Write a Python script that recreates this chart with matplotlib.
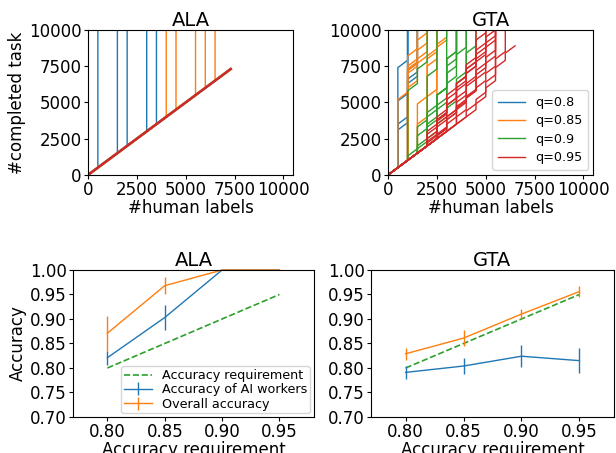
import matplotlib
matplotlib.use("Agg")
import matplotlib.pyplot as plt

# quality levels used in the simulations
q_labels = ["q=0.8", "q=0.85", "q=0.9", "q=0.95"]
q_colors = ["C0", "C1", "C2", "C3"]

# ALA: human label count at which the AI workers took over (one per run)
ala_takeover = [
    [500, 1500, 2000, 3000, 3500],
    [4000, 4500, 5500, 6000, 6500],
    [],
    [],
]
ala_total_human = 7300

# GTA: tasks labelled by the AI at each checkpoint (every 500 human labels)
gta_q080 = [
    [6900, 10000],
    [4600, 10000],
    [3000, 10000],
    [2600, 10000],
    [0, 5300, 10000],
    [0, 6200, 10000],
    [0, 5600, 10000],
]
gta_q085 = [
    [4700, 1500, 10000],
    [0, 6300, 800, 10000],
    [0, 6500, 0, 10000],
    [0, 5000, 1200, 0, 10000],
    [0, 0, 3400, 0, 10000],
    [0, 0, 0, 6000, 10000],
    [0, 0, 2000, 3500, 1000, 10000],
    [0, 0, 0, 0, 6300],
    [0, 6000, 1800, 10000],
    [0, 7200, 10000],
]
gta_q090 = [
    [0, 4800, 1000, 10000],
    [0, 0, 1800, 3000, 10000],
    [0, 0, 0, 2300, 0, 10000],
    [0, 0, 500, 0, 2500, 2000, 10000],
    [0, 0, 0, 0, 0, 0, 3100, 1300, 10000],
    [0, 0, 0, 1500, 1500, 1000, 10000],
    [0, 300, 0, 1000, 0, 2000, 1500, 10000],
    [0, 0, 0, 0, 3000, 1500, 10000],
    [0, 0, 1200, 800, 0, 3000, 10000],
    [0, 0, 0, 0, 1000, 600, 1200, 10000],
]
gta_q095 = [
    [0, 0, 0, 0, 0, 0, 0, 0, 400, 600, 10000],
    [0, 0, 0, 500, 800, 500, 1000, 500, 1500, 10000],
    [0, 0, 0, 0, 1500, 300, 500, 1000, 500, 300, 10000],
    [0, 0, 0, 0, 0, 1000, 500, 1500, 300, 1200, 10000],
    [0, 0, 0, 1000, 0, 1500, 0, 500, 500, 300],
    [0, 0, 0, 0, 0, 0, 500, 800, 200, 500, 500, 10000],
    [0, 0, 0, 0, 0, 0, 0, 400, 300, 700, 500, 500],
    [0, 0, 0, 300, 500, 200, 800, 300, 600, 400, 10000],
    [0, 0, 0, 0, 200, 600, 300, 1200, 10000],
    [0, 0, 0, 800, 400, 1000, 600, 800, 500, 10000],
    [0, 0, 0, 0, 300, 200, 500, 300, 800, 600, 10000],
    [0, 0, 0, 200, 0, 600, 400, 200, 1000, 10000],
]
gta_runs = [gta_q080, gta_q085, gta_q090, gta_q095]
checkpoint = 500
n_tasks = 10000

# accuracy vs requirement
acc_req = [0.80, 0.85, 0.90, 0.95]
acc_ticks = [0.70, 0.75, 0.80, 0.85, 0.90, 0.95, 1.00]
ala_ai = [0.821, 0.903, 1.0, 1.0]
ala_ai_err = [0.014, 0.025, 0.0, 0.0]
ala_all = [0.871, 0.968, 1.0, 1.0]
ala_all_err = [0.036, 0.018, 0.0, 0.0]
gta_ai = [0.791, 0.804, 0.824, 0.815]
gta_ai_err = [0.013, 0.016, 0.022, 0.026]
gta_all = [0.829, 0.861, 0.910, 0.956]
gta_all_err = [0.012, 0.016, 0.011, 0.011]


def run_path(jumps):
    xs, ys = [0], [0]
    y = 0
    c = 0
    for i, j in enumerate(jumps):
        c = (i + 1) * checkpoint
        y += checkpoint
        xs.append(c)
        ys.append(y)
        if j:
            y += j
            xs.append(c)
            ys.append(y)
        if y >= n_tasks:
            break
    if y < n_tasks:
        xs.append(c + checkpoint)
        ys.append(y + checkpoint)
    return xs, ys


tick_fs = 12
label_fs = 12
fig = plt.figure(figsize=(6.16, 4.53), dpi=100)
ax1 = fig.add_axes([0.143, 0.614, 0.333, 0.320])
ax2 = fig.add_axes([0.630, 0.614, 0.333, 0.320])
ax3 = fig.add_axes([0.1185, 0.0795, 0.391, 0.3245])
ax4 = fig.add_axes([0.602, 0.0795, 0.395, 0.3245])

# ALA runs
for k, color in enumerate(q_colors):
    if ala_takeover[k]:
        for t in ala_takeover[k]:
            ax1.plot([0, t, t], [0, t, n_tasks], color=color, lw=1)
    else:
        ax1.plot([0, ala_total_human], [0, ala_total_human], color=color, lw=1.8)

# GTA runs
for k, color in enumerate(q_colors):
    for r, jumps in enumerate(gta_runs[k]):
        xs, ys = run_path(jumps)
        ax2.plot(xs, ys, color=color, lw=1, label=q_labels[k] if r == 0 else None)
ax2.legend(loc="lower right", fontsize=9.2, handlelength=2.1, labelspacing=0.42,
           borderpad=0.44, borderaxespad=0.4)

for ax, title in [(ax1, "ALA"), (ax2, "GTA")]:
    ax.set_xlim(0, 10500)
    ax.set_ylim(0, 10000)
    ax.set_xticks([0, 2500, 5000, 7500, 10000])
    ax.set_yticks([0, 2500, 5000, 7500, 10000])
    ax.tick_params(labelsize=tick_fs, pad=1.5, length=3)
    ax.set_title(title, fontsize=14, pad=2)
    ax.set_xlabel("#human labels", fontsize=label_fs, labelpad=0)
ax1.set_ylabel("#completed task", fontsize=label_fs, labelpad=2)

# accuracy plots
ax3.plot(acc_req, acc_req, "--", color="C2", lw=1.2, label="Accuracy requirement")
ax3.errorbar(acc_req, ala_ai, yerr=ala_ai_err, color="C0", lw=1, clip_on=False,
             label="Accuracy of AI workers")
ax3.errorbar(acc_req, ala_all, yerr=ala_all_err, color="C1", lw=1, clip_on=False,
             label="Overall accuracy")
ax3.legend(loc="lower right", fontsize=9.2, handlelength=2.2, borderpad=0.2,
           labelspacing=0.1, borderaxespad=0.3)

ax4.plot(acc_req, acc_req, "--", color="C2", lw=1.2)
ax4.errorbar(acc_req, gta_ai, yerr=gta_ai_err, color="C0", lw=1)
ax4.errorbar(acc_req, gta_all, yerr=gta_all_err, color="C1", lw=1)

for ax, title in [(ax3, "ALA"), (ax4, "GTA")]:
    ax.set_xlim(0.77, 0.98)
    ax.set_ylim(0.70, 1.00)
    ax.set_xticks(acc_req)
    ax.set_xticklabels(["%.2f" % v for v in acc_req])
    ax.set_yticks(acc_ticks)
    ax.set_yticklabels(["%.2f" % v for v in acc_ticks])
    ax.tick_params(labelsize=tick_fs, pad=1.5, length=3)
    ax.set_title(title, fontsize=14, pad=3)
    ax.set_xlabel("Accuracy requirement", fontsize=label_fs, labelpad=0)
ax3.set_ylabel("Accuracy", fontsize=label_fs, labelpad=2)

fig.savefig("out.png", dpi=100)
